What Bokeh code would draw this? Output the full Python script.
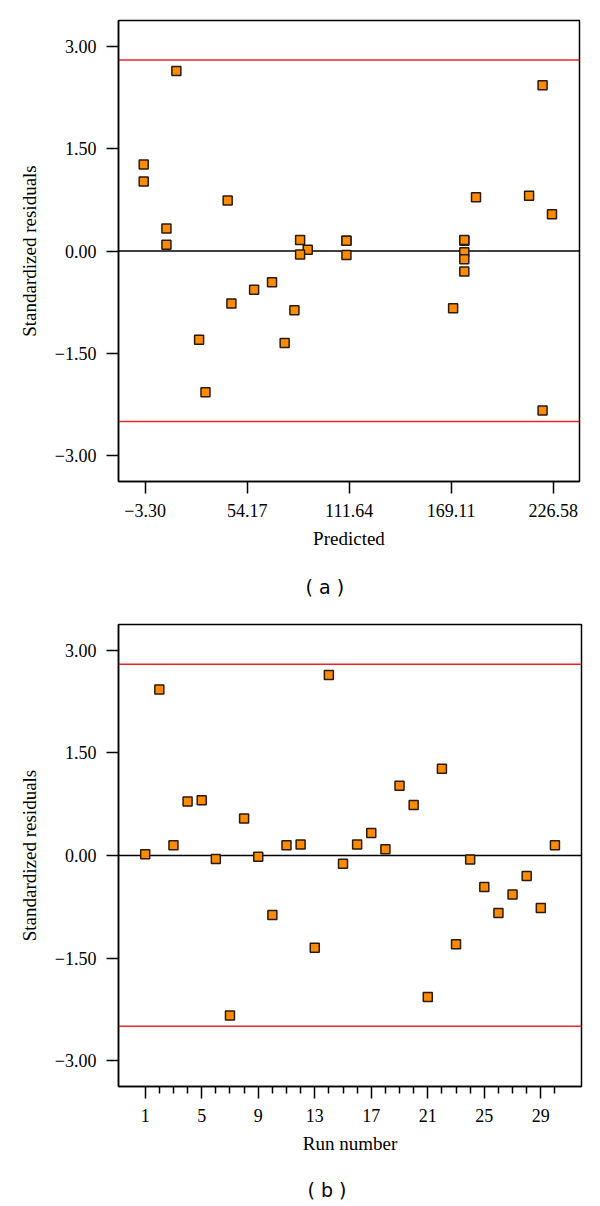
from bokeh.plotting import figure
from bokeh.models import FixedTicker, Span, Title, Range1d
from bokeh.layouts import column
from bokeh.embed import file_html
from bokeh.resources import INLINE

# ---- data ----
run_numbers = list(range(1, 31))
predicted = [88.3, 220.6, 110.1, 183.1, 213.0, 84.0, 220.6, 225.9, 176.5, 80.8,
             176.5, 84.0, 75.3, 14.3, 176.5, 176.5, 8.7, 8.7, -4.1, 43.2,
             30.7, -4.1, 27.1, 110.1, 68.2, 170.2, 58.1, 176.5, 45.3, 110.1]
residuals = [0.02, 2.43, 0.15, 0.79, 0.81, -0.05, -2.34, 0.54, -0.02, -0.87,
             0.15, 0.16, -1.35, 2.64, -0.12, 0.16, 0.33, 0.09, 1.02, 0.74,
             -2.07, 1.27, -1.30, -0.06, -0.46, -0.84, -0.57, -0.30, -0.77, 0.15]
upper_limit = 2.80
lower_limit = -2.50
y_ticks = [-3.0, -1.5, 0.0, 1.5, 3.0]
y_tick_labels = ["\u22123.00", "\u22121.50", "0.00", "1.50", "3.00"]
xa_ticks = [-3.30, 54.17, 111.64, 169.11, 226.58]
xa_tick_labels = ["\u22123.30", "54.17", "111.64", "169.11", "226.58"]
xb_ticks = [1, 5, 9, 13, 17, 21, 25, 29]
xb_minor = [r for r in run_numbers if r not in xb_ticks]

SERIF = "Liberation Serif"
ORANGE = "#FF8C00"
EDGE = "#2a1a0a"
RED = "#E8262A"


def style(p, xlabel, xticks, xlabels, minor=None):
    p.grid.visible = False
    p.outline_line_color = "black"
    p.outline_line_width = 1.5
    p.background_fill_color = "white"
    p.border_fill_color = "white"
    p.yaxis.ticker = FixedTicker(ticks=y_ticks)
    p.yaxis.major_label_overrides = dict(zip(y_ticks, y_tick_labels))
    p.xaxis.ticker = FixedTicker(ticks=xticks, minor_ticks=minor or [])
    if xlabels is not None:
        p.xaxis.major_label_overrides = dict(zip(xticks, xlabels))
    for ax in (p.xaxis[0], p.yaxis[0]):
        ax.axis_line_color = "black"
        ax.axis_line_width = 1.5
        ax.major_tick_line_color = "black"
        ax.major_tick_line_width = 1.5
        ax.major_tick_out = 12
        ax.major_tick_in = 0
        ax.minor_tick_line_color = "black"
        ax.minor_tick_line_width = 1.5
        ax.minor_tick_out = 7
        ax.minor_tick_in = 0
        ax.major_label_text_font = SERIF
        ax.major_label_text_font_size = "18px"
        ax.major_label_text_color = "black"
        ax.major_label_standoff = 10
        ax.axis_label_text_font = SERIF
        ax.axis_label_text_font_size = "19px"
        ax.axis_label_text_font_style = "normal"
        ax.axis_label_text_color = "black"
    p.xaxis.axis_label_standoff = 8
    p.yaxis.axis_label_standoff = 12
    p.yaxis.axis_label = "Standardized residuals"
    p.xaxis.axis_label = xlabel
    if not minor:
        p.xaxis.minor_tick_line_color = None
    p.yaxis.minor_tick_line_color = None
    for v, c in ((0.0, "black"), (upper_limit, RED), (lower_limit, RED)):
        p.add_layout(Span(location=v, dimension="width", line_color=c,
                          line_width=1.5, level="underlay"))


pa = figure(frame_width=461, frame_height=461, output_backend="svg",
            toolbar_location=None, x_range=Range1d(-18.3, 241.4),
            y_range=Range1d(-3.38, 3.38), min_border_left=118,
            min_border_right=13, min_border_top=20, min_border_bottom=100)
style(pa, "Predicted", xa_ticks, xa_tick_labels)
pa.scatter(predicted, residuals, marker="square", size=9, fill_color=ORANGE,
           line_color=EDGE, line_width=1.5)
pa.add_layout(Title(text="( a )", align="left", offset=187,
                    text_font="DejaVu Sans", text_font_size="19px",
                    text_font_style="normal", text_color="black",
                    standoff=44), "below")

pb = figure(frame_width=463, frame_height=462, output_backend="svg",
            toolbar_location=None, x_range=Range1d(-0.89, 31.88),
            y_range=Range1d(-3.38, 3.38), min_border_left=116,
            min_border_right=13, min_border_top=5, min_border_bottom=90)
style(pb, "Run number", xb_ticks, None, minor=xb_minor)
pb.scatter(run_numbers, residuals, marker="square", size=9, fill_color=ORANGE,
           line_color=EDGE, line_width=1.5)
pb.add_layout(Title(text="( b )", align="left", offset=189,
                    text_font="DejaVu Sans", text_font_size="19px",
                    text_font_style="normal", text_color="black",
                    standoff=40), "below")

layout = column(pa, pb, spacing=0)
open("out.html", "w").write(file_html(layout, INLINE))
